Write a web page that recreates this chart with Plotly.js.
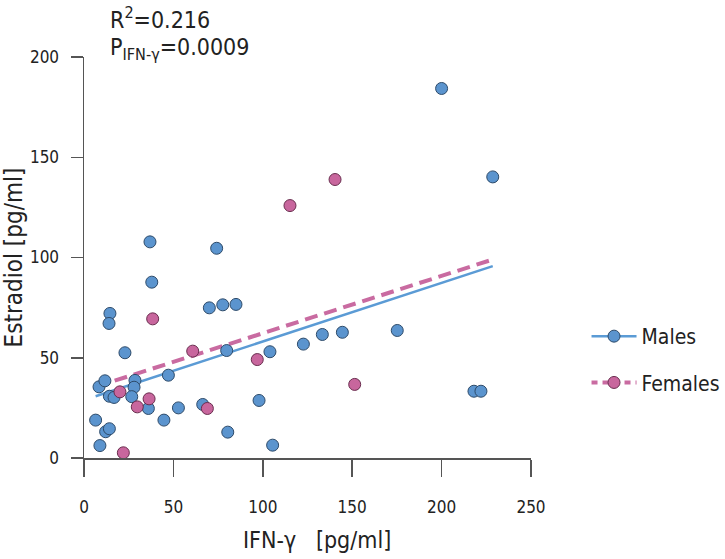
<!DOCTYPE html>
<html>
<head>
<meta charset="utf-8">
<script src="https://cdn.plot.ly/plotly-3.0.1.min.js"></script>
<style>html,body{margin:0;padding:0;background:#fff;}#chart{width:725px;height:559px;}</style>
</head>
<body>
<div id="chart"></div>
<script>
const maleX = [200.0, 228.6, 36.9, 74.2, 37.9, 14.5, 14.0, 70.1, 77.6, 85.0, 144.5, 133.3, 122.7, 104.0, 79.8, 22.9, 47.2, 8.4, 11.7, 14.2, 16.8, 28.5, 28.0, 26.7, 36.0, 52.8, 66.4, 44.7, 6.5, 12.1, 14.2, 8.9, 80.4, 97.9, 105.5, 175.2, 218.1, 222.0];
const maleY = [184.3, 140.2, 107.8, 104.6, 87.7, 72.1, 67.1, 74.9, 76.4, 76.6, 62.7, 61.6, 56.8, 53.0, 53.6, 52.5, 41.3, 35.5, 38.5, 30.8, 30.2, 38.7, 35.3, 30.6, 24.7, 25.0, 26.7, 18.9, 18.9, 13.1, 14.6, 6.2, 12.9, 28.7, 6.4, 63.6, 33.3, 33.3];
const femaleX = [140.4, 115.2, 38.4, 60.8, 96.9, 151.4, 20.1, 29.8, 36.4, 69.0, 22.0];
const femaleY = [138.9, 125.9, 69.4, 53.3, 49.1, 36.7, 33.0, 25.5, 29.5, 24.7, 2.6];
const fitX = [6.5, 228.6];
const maleFitY = [30.8, 95.7];
const femaleFitY = [35.5, 99.0];
const xTicks = [0, 50, 100, 150, 200, 250];
const yTicks = [0, 50, 100, 150, 200];
const seriesNames = ["Males", "Females"];
const xTitle = 'IFN-γ   [pg/ml]';
const yTitle = 'Estradiol [pg/ml]';
const statLines = ['R<sup>2</sup>=0.216', 'P<sub>IFN-γ</sub>=0.0009'];

const FONT = '"DejaVu Sans Condensed", "DejaVu Sans", sans-serif';
const blueFill = '#5b94ce', blueEdge = '#2e4b6a', blueLine = '#5b9bd5';
const pinkFill = '#c8669d', pinkEdge = '#6a2e4f', pinkLine = '#c96ba1';

const traces = [
  {x: fitX, y: maleFitY, mode: 'lines', line: {color: blueLine, width: 2.5}, showlegend: false, hoverinfo: 'skip'},
  {x: fitX, y: femaleFitY, mode: 'lines', line: {color: pinkLine, width: 4, dash: '13px,7px'}, showlegend: false, hoverinfo: 'skip'},
  {x: maleX, y: maleY, mode: 'markers', marker: {color: blueFill, size: 12, line: {color: blueEdge, width: 1}}, showlegend: false, cliponaxis: false},
  {x: femaleX, y: femaleY, mode: 'markers', marker: {color: pinkFill, size: 12, line: {color: pinkEdge, width: 1}}, showlegend: false, cliponaxis: false},
  {x: [null], y: [null], name: seriesNames[0], legendgroup: 'm', mode: 'lines+markers', line: {color: blueLine, width: 2.5}, marker: {color: blueFill, size: 12, line: {color: blueEdge, width: 1}}},
  {x: [null], y: [null], name: seriesNames[1], legendgroup: 'f', mode: 'lines+markers', line: {color: pinkLine, width: 4, dash: '6px,5px'}, marker: {color: pinkFill, size: 12, line: {color: pinkEdge, width: 1}}}
];

const axisCommon = {
  showline: true, linecolor: '#555', linewidth: 1.5,
  ticks: 'outside', tickcolor: '#555', tickwidth: 1.5,
  showgrid: false, zeroline: false, automargin: false,
  tickfont: {family: FONT, size: 17, color: '#222'}
};

const layout = {
  width: 725, height: 559,
  margin: {l: 84, r: 194, t: 57, b: 101, autoexpand: false},
  paper_bgcolor: '#fff', plot_bgcolor: '#fff',
  font: {family: FONT, color: '#222'},
  xaxis: Object.assign({}, axisCommon, {
    range: [0, 250], tickvals: xTicks, ticklen: 17, ticklabelstandoff: 16
  }),
  yaxis: Object.assign({}, axisCommon, {
    range: [0, 200], tickvals: yTicks, ticklen: 12, ticklabelstandoff: 8,
    title: {text: yTitle, font: {family: FONT, size: 24, color: '#222'}, standoff: 16}
  }),
  legend: {
    xref: 'container', yref: 'container',
    x: 0.809, xanchor: 'left', y: 0.4347, yanchor: 'top',
    font: {family: FONT, size: 21, color: '#222'},
    itemwidth: 45,
    traceorder: 'grouped', tracegroupgap: 16, bgcolor: 'rgba(0,0,0,0)'
  },
  annotations: [
    {xref: 'paper', yref: 'paper', x: 0.521, y: -0.205, xanchor: 'center', yanchor: 'middle', showarrow: false,
     text: xTitle, font: {family: FONT, size: 23, color: '#222'}},
    {xref: 'paper', yref: 'paper', x: 0.054, y: 1.098, xanchor: 'left', yanchor: 'middle', showarrow: false,
     text: statLines[0], font: {family: FONT, size: 23, color: '#222'}},
    {xref: 'paper', yref: 'paper', x: 0.054, y: 1.02, xanchor: 'left', yanchor: 'middle', showarrow: false,
     text: statLines[1], font: {family: FONT, size: 23, color: '#222'}}
  ],
  showlegend: true
};

Plotly.newPlot('chart', traces, layout, {displayModeBar: false, staticPlot: true});
</script>
</body>
</html>
